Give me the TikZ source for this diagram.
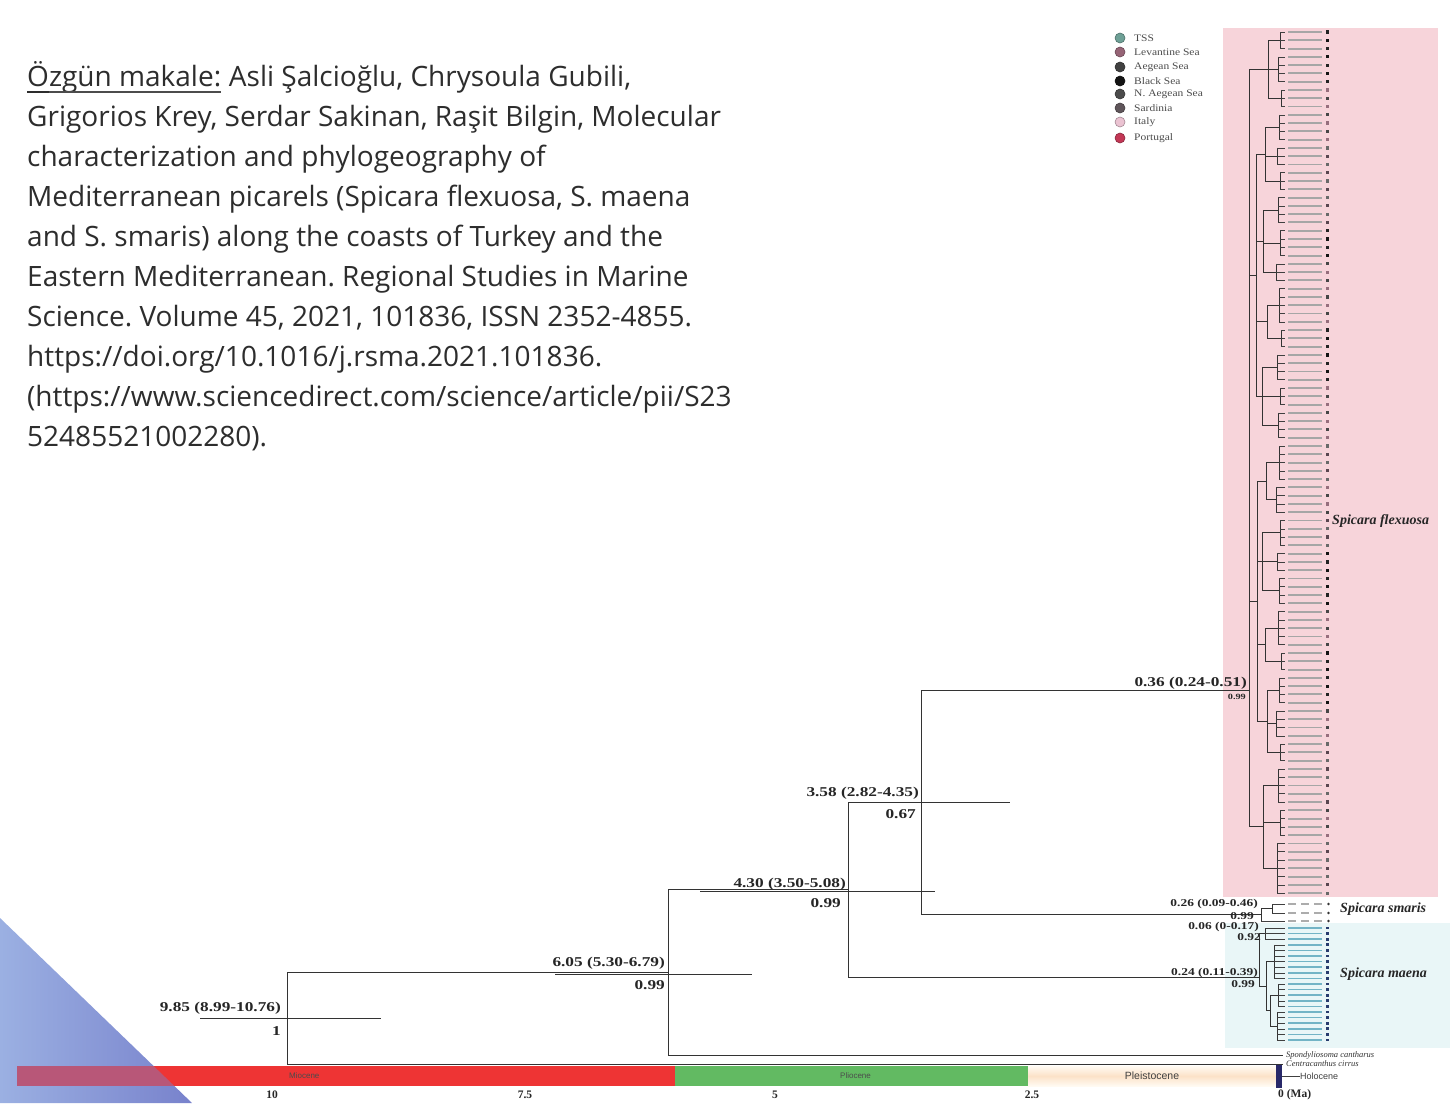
\documentclass[tikz,border=0pt]{standalone}
\usepackage{fontspec}
\setmainfont{Liberation Serif}
\newfontfamily\opensans{Open Sans}
\newfontfamily\numfont{Liberation Serif}[FakeStretch=1.28]
\newfontfamily\legfont{Liberation Serif}[FakeStretch=1.15]
\newfontfamily\lsans{Liberation Sans}
\usetikzlibrary{calc}
\frenchspacing
\definecolor{txt}{RGB}{45,45,45}
\definecolor{pinkbg}{RGB}{247,212,218}
\definecolor{maenabg}{RGB}{233,246,247}
\definecolor{mioc}{RGB}{238,52,52}
\definecolor{plio}{RGB}{98,186,98}
\definecolor{pleiA}{RGB}{255,250,242}
\definecolor{pleiB}{RGB}{252,226,200}
\definecolor{holo}{RGB}{40,40,105}
\definecolor{triA}{RGB}{155,176,226}
\definecolor{triB}{RGB}{120,130,204}
\definecolor{maenalab}{RGB}{115,180,198}
\definecolor{maenasq}{RGB}{40,60,110}
\definecolor{lgA}{RGB}{110,160,150}
\definecolor{lgB}{RGB}{150,100,118}
\definecolor{lgC}{RGB}{65,65,65}
\definecolor{lgD}{RGB}{20,20,20}
\definecolor{lgE}{RGB}{75,75,75}
\definecolor{lgF}{RGB}{95,85,90}
\definecolor{lgG}{RGB}{235,195,210}
\definecolor{lgH}{RGB}{195,55,85}
\definecolor{sqa0}{RGB}{20,20,20}
\definecolor{sqa1}{RGB}{70,70,70}
\definecolor{sqa2}{RGB}{90,70,80}
\definecolor{sqa3}{RGB}{35,35,35}
\definecolor{sqa4}{RGB}{150,110,125}
\definecolor{sqa5}{RGB}{105,105,105}
\newcommand{\maenatip}[2]{%
  \pgfmathsetmacro\yt{928+5.6*#1}%
  \draw[tipbr] (#2,\yt) -- (1285,\yt);
  \draw[mlab] (1288,\yt) -- (1322,\yt);
  \fill[maenasq] (1325.5,\yt-1.4) rectangle (1328.5,\yt+1.4);}
\begin{document}
\begin{tikzpicture}[x=1pt,y=-1pt,
  br/.style={draw=black!80, line width=0.9pt},
  tipbr/.style={draw=black!75, line width=0.6pt},
  tipl/.style={draw=gray!70, line width=1.9pt},
  mlab/.style={draw=maenalab, line width=1.5pt},
  slab/.style={draw=gray!65, line width=1.5pt, dash pattern=on 8pt off 5pt},
  para/.style={font=\opensans\fontsize{28}{34}\selectfont, text=txt, inner sep=0, anchor=base west},
  nlab/.style={font=\numfont\bfseries\fontsize{13.5}{15}\selectfont, inner sep=0, text=black!85, anchor=base east},
  smlab/.style={font=\numfont\bfseries\fontsize{10.5}{12}\selectfont, inner sep=0, text=black!85, anchor=base east},
  clade/.style={font=\bfseries\itshape\fontsize{14}{16}\selectfont, inner sep=0, text=black!85, anchor=base west},
  legtxt/.style={font=\legfont\fontsize{10}{11}\selectfont, inner sep=0, text=black!70, anchor=west},
  axlab/.style={font=\bfseries\fontsize{11.5}{13}\selectfont, inner sep=0, text=black!85}]
\useasboundingbox (0,0) rectangle (1450,1103);
\fill[white] (0,0) rectangle (1450,1103);

% ---------- reference text ----------
\node[para] (t1a) at (27,86) {Özgün makale:};
\node[para] (t1b) at ([xshift=7.3pt]t1a.base east) {Asli Şalcioğlu, Chrysoula Gubili,};
\draw[txt!85, line width=1.2pt] ([yshift=-6pt]t1a.base west) -- ([yshift=-6pt]t1a.base east);
\draw[txt, line width=2.2pt] ([yshift=-6pt]t1a.base west) -- ([yshift=-6pt,xshift=22pt]t1a.base west);
\node[para] (t2) at (27,126) {Grigorios Krey, Serdar Sakinan, Raşit Bilgin, Molecular};
\node[para] (t3) at (27,166) {characterization and phylogeography of};
\node[para] (t4) at (27,206) {Mediterranean picarels (Spicara flexuosa, S. maena};
\node[para] (t5) at (27,246) {and S. smaris) along the coasts of Turkey and the};
\node[para] (t6) at (27,286) {Eastern Mediterranean. Regional Studies in Marine};
\node[para] (t7) at (27,326) {Science. Volume 45, 2021, 101836, ISSN 2352-4855.};
\node[para] (t8) at (27,366) {https://doi.org/10.1016/j.rsma.2021.101836.};
\node[para] (t9) at (27,406) {(https://www.sciencedirect.com/science/article/pii/S23};
\node[para] (t10) at (27,446) {52485521002280).};

% ---------- backgrounds ----------
\fill[pinkbg] (1223,28) rectangle (1438,897);
\fill[maenabg] (1225,923) rectangle (1450,1048);

% ---------- legend ----------
\foreach \yy/\cc/\lab [count=\i] in {38/lgA/TSS, 52/lgB/Levantine Sea, 67/lgC/Aegean Sea, 81/lgD/Black Sea, 94/lgE/N. Aegean Sea, 108/lgF/Sardinia, 122/lgG/Italy, 138/lgH/Portugal}{
  \node[circle, fill=\cc, draw=\cc!70!black, line width=0.6pt, minimum size=10pt, inner sep=0] (lg\i) at (1120,\yy) {};
  \node[legtxt] (lt\i) at (1134,\yy) {\lab};
}

% ---------- time bar ----------
\shade[left color=triA, right color=triB] (0,918) -- (0,1103) -- (192,1103) -- cycle;
\fill[mioc] (17,1066) rectangle (675,1086);
\begin{scope}
  \clip (0,918) -- (0,1103) -- (192,1103) -- cycle;
  \fill[triB, fill opacity=0.45] (17,1066) rectangle (675,1086);
\end{scope}
\fill[plio] (675,1066) rectangle (1028,1086);
\shade[top color=pleiA, bottom color=pleiA, middle color=pleiB] (1028,1066) rectangle (1276,1086);
\node[fill=holo, minimum width=6pt, minimum height=23pt, inner sep=0] (hbar) at (1279,1076) {};
\node[font=\lsans\fontsize{8}{9}\selectfont, text=black!70, anchor=west, inner sep=0] (mio) at (289,1076) {Miocene};
\node[font=\lsans\fontsize{8}{9}\selectfont, text=black!70, anchor=west, inner sep=0] (pli) at (840,1076) {Pliocene};
\node[font=\lsans\fontsize{10.5}{12}\selectfont, text=black!75, inner sep=0] (ple) at (1152,1076) {Pleistocene};
\node[font=\lsans\fontsize{9}{10}\selectfont, text=black!75, anchor=west, inner sep=0] (hol) at (1300,1076) {Holocene};
\draw[black!75, line width=0.6pt] (hbar.east) -- (hol.west);
\node[axlab] (a10) at (272,1095) {10};
\node[axlab] (a75) at (525,1095) {7.5};
\node[axlab] (a5) at (775,1095) {5};
\node[axlab] (a25) at (1032,1095) {2.5};
\node[axlab, anchor=west] (a0) at (1278,1095) {0 (Ma)};

% ---------- main tree ----------
\coordinate (R) at (287,1018.75);
\coordinate (A) at (668,972.5);
\coordinate (B) at (848,889.5);
\coordinate (C) at (921,802.4);
\coordinate (fl) at (1249,690);
\coordinate (sm) at (1261,914.75);
\coordinate (ma) at (1259,977);
\coordinate (og1) at (1283,1055);
\coordinate (og2) at (1283,1064);

\draw[br] (A) -- (R |- A) -- (R |- og2) -- (og2);
\draw[br] (B) -- (A |- B) -- (A |- og1) -- (og1);
\draw[br] (C) -- (B |- C) -- (B |- ma) -- (ma);
\draw[br] (fl) -- (C |- fl) -- (C |- sm) -- (sm);

% HPD bars
\draw[br] ([xshift=-87pt]R) -- ([xshift=94pt]R);
\draw[br] ([xshift=-113pt,yshift=-2pt]A) -- ([xshift=84pt,yshift=-2pt]A);
\draw[br] ([xshift=-148pt,yshift=-2pt]B) -- ([xshift=87pt,yshift=-2pt]B);
\draw[br] ([xshift=-73pt]C) -- ([xshift=89pt]C);

% node labels
\node[nlab] (lR) at (281,1011) {9.85 (8.99-10.76)};
\node[nlab] (pR) at (281,1035) {1};
\node[nlab] (lA) at (665,966) {6.05 (5.30-6.79)};
\node[nlab] (pA) at (665,989) {0.99};
\node[nlab] (lB) at (846,887) {4.30 (3.50-5.08)};
\node[nlab] (pB) at (841,907) {0.99};
\node[nlab] (lC) at (919,796) {3.58 (2.82-4.35)};
\node[nlab] (pC) at (916,818) {0.67};
\node[nlab] (lF) at (1247,686) {0.36 (0.24-0.51)};
\node[smlab, font=\numfont\bfseries\fontsize{8}{9}\selectfont] (pF) at (1246,699) {0.99};
\node[smlab] (lS) at (1258,906) {0.26 (0.09-0.46)};
\node[smlab] (pS) at (1254,919) {0.99};
\node[smlab] (lM1) at (1259,929) {0.06 (0-0.17)};
\node[smlab] (pM1) at (1261,940) {0.92};
\node[smlab] (lM) at (1258,975) {0.24 (0.11-0.39)};
\node[smlab] (pM) at (1255,987) {0.99};

% ---------- Spicara flexuosa ----------
\foreach \s/\n/\xc/\xp in {0/3/1280/1268, 3/4/1278/1268, 7/3/1281/1268,
 10/4/1279/1265, 14/3/1277/1265, 17/3/1280/1265,
 20/4/1278/1263, 24/4/1280/1263, 28/3/1276/1263,
 31/5/1279/1267, 36/3/1281/1267,
 39/4/1277/1262, 43/3/1280/1262, 46/4/1278/1262,
 50/5/1279/1266, 55/4/1276/1266,
 59/4/1280/1262, 63/3/1277/1262, 66/4/1279/1262,
 70/5/1278/1265, 75/3/1281/1265,
 78/4/1279/1267, 82/4/1276/1267, 86/3/1280/1267,
 89/5/1278/1263, 94/4/1280/1263, 98/7/1277/1263}{
  \pgfmathsetmacro\ya{32+8.28*\s}
  \pgfmathsetmacro\yb{32+8.28*(\s+\n-1)}
  \pgfmathsetmacro\ym{(\ya+\yb)/2}
  \draw[br] (\xc,\ya) -- (\xc,\yb);
  \draw[br] (\xp,\ym) -- (\xc,\ym);
  \foreach \k in {1,...,\n}{
    \pgfmathsetmacro\yt{32+8.28*(\s+\k-1)}
    \pgfmathtruncatemacro\cc{mod(\s+3*\k,6)}
    \draw[tipbr] (\xc,\yt) -- (1285,\yt);
    \draw[tipl] (1288,\yt) -- (1322,\yt);
    \fill[sqa\cc] (1325.5,\yt-1.6) rectangle (1328.7,\yt+1.6);
  }
}
\foreach \sa/\na/\sb/\nb/\xp/\xb in {0/3/7/3/1268/1249, 10/4/17/3/1265/1256, 20/4/28/3/1263/1256,
 31/5/36/3/1267/1256, 39/4/46/4/1262/1256, 50/5/55/4/1266/1257, 59/4/66/4/1262/1257,
 70/5/75/3/1265/1257, 78/4/86/3/1267/1257, 89/5/98/7/1263/1249}{
  \pgfmathsetmacro\ya{32+8.28*(\sa+(\na-1)/2)}
  \pgfmathsetmacro\yb{32+8.28*(\sb+(\nb-1)/2)}
  \pgfmathsetmacro\ym{(\ya+\yb)/2}
  \draw[br] (\xp,\ya) -- (\xp,\yb);
  \draw[br] (\xb,\ym) -- (\xp,\ym);
}
\draw[br] (1256,{32+8.28*14.75}) -- (1256,{32+8.28*44});
\draw[br] (1249,{32+8.28*29.375}) -- (1256,{32+8.28*29.375});
\draw[br] (1257,{32+8.28*54.25}) -- (1257,{32+8.28*83.25});
\draw[br] (1249,{32+8.28*68.75}) -- (1257,{32+8.28*68.75});
\draw[br] (1249,{32+8.28*4.5}) -- (1249,{32+8.28*96});

% ---------- Spicara smaris ----------
\draw[br] (1261,908.5) -- (1261,921);
\draw[br] (1261,908.5) -- (1272,908.5);
\draw[br] (1272,904) -- (1272,913);
\foreach \yt/\xc in {904/1272, 913/1272, 921/1261}{
  \draw[tipbr] (\xc,\yt) -- (1285,\yt);
  \draw[slab] (1288,\yt) -- (1324,\yt);
  \fill[black!80] (1328.5,\yt) circle (1.4pt);
}

% ---------- Spicara maena ----------
\draw[br] (1265,928) -- (1265,939.2);
\draw[br] (1259,933.6) -- (1265,933.6);
\draw[br] (1274,944.8) -- (1274,978.4);
\draw[br] (1266,961.6) -- (1274,961.6);
\draw[br] (1278,984) -- (1278,1006.4);
\draw[br] (1277,1012) -- (1277,1040);
\draw[br] (1270,995.2) -- (1270,1026);
\draw[br] (1270,995.2) -- (1278,995.2);
\draw[br] (1270,1026) -- (1277,1026);
\draw[br] (1266,1010.6) -- (1270,1010.6);
\draw[br] (1266,961.6) -- (1266,1010.6);
\draw[br] (1259,986.1) -- (1266,986.1);
\draw[br] (1259,933.6) -- (1259,986.1);
\foreach \k in {0,1,2}{\maenatip{\k}{1265}}
\foreach \k in {3,...,9}{\maenatip{\k}{1274}}
\foreach \k in {10,...,14}{\maenatip{\k}{1278}}
\foreach \k in {15,...,20}{\maenatip{\k}{1277}}

% ---------- outgroups ----------
\node[font=\itshape\fontsize{8.5}{9}\selectfont, text=black!80, anchor=west, inner sep=0] (sp1) at ([xshift=3pt]og1) {Spondyliosoma cantharus};
\node[font=\itshape\fontsize{8.5}{9}\selectfont, text=black!80, anchor=west, inner sep=0] (sp2) at ([xshift=3pt]og2) {Centracanthus cirrus};

% ---------- clade names ----------
\node[clade] (cf) at (1332,524) {Spicara flexuosa};
\node[clade] (cs) at (1340,912) {Spicara smaris};
\node[clade] (cm) at (1340,977) {Spicara maena};
\end{tikzpicture}
\end{document}
